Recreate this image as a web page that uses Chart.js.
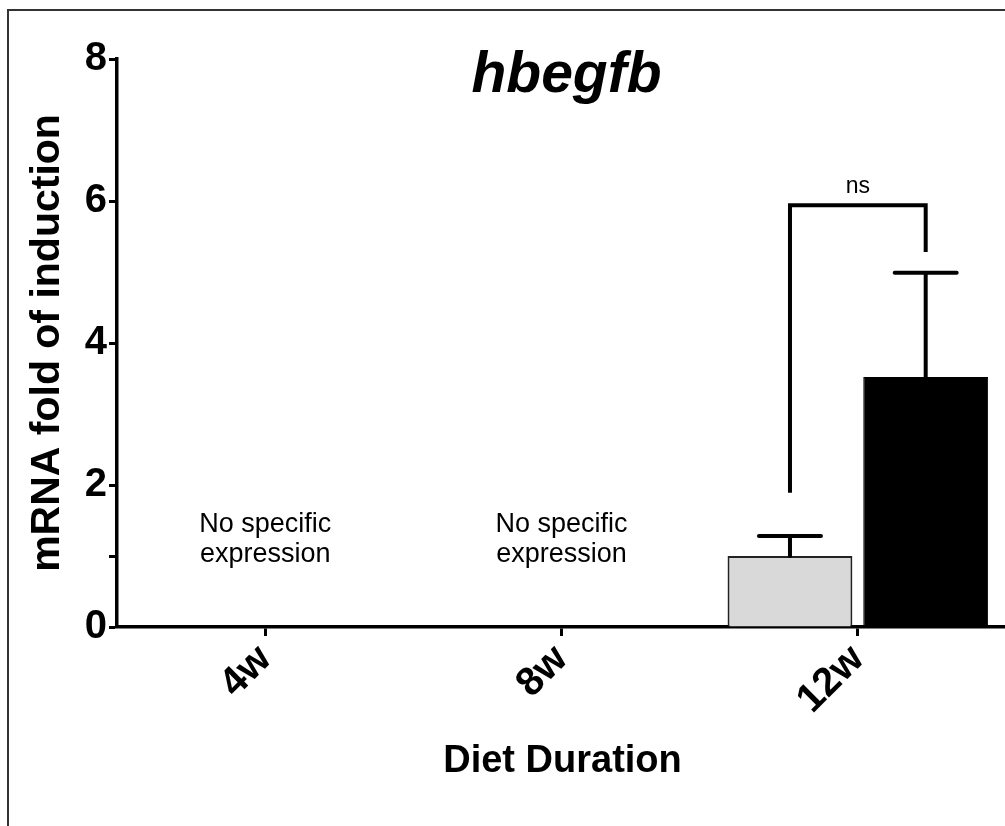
<!DOCTYPE html>
<html>
<head>
<meta charset="utf-8">
<script src="https://cdn.jsdelivr.net/npm/chart.js@4.4.1/dist/chart.umd.min.js"></script>
<style>
  html, body { margin: 0; padding: 0; background: #fff; overflow: hidden; width: 1005px; height: 826px; }
  #wrap { position: absolute; left: 0; top: 0; width: 1012px; height: 826px; }
</style>
</head>
<body>
<div id="wrap"><canvas id="c" width="1012" height="826"></canvas></div>
<script>
// ---- data ----
const categories = ['4w', '8w', '12w'];
const controlMeans = [null, null, 1.0];
const controlUpper = [null, null, 1.28];
const treatedMeans = [null, null, 3.52];
const treatedUpper = [null, null, 4.99];
const yTickValues = [0, 1, 2, 4, 6, 8];
const yTickLabels = ['0', '', '2', '4', '6', '8'];
const noteLines = [['No specific', 'expression'], ['No specific', 'expression'], null];
const bracketLeftEnd = 1.89;
const bracketTop = 5.94;
const bracketRightEnd = 5.28;
const bracketLabel = 'ns';
const chartTitle = 'hbegfb';
const yAxisTitle = 'mRNA fold of induction';
const xAxisTitle = 'Diet Duration';

const FONT = '"Liberation Sans", Arial, Helvetica, sans-serif';

const overlay = {
  id: 'overlay',
  beforeDraw(chart) {
    const ctx = chart.ctx;
    ctx.save();
    ctx.strokeStyle = '#333';
    ctx.lineWidth = 2;
    ctx.beginPath();
    ctx.moveTo(8, 826);
    ctx.lineTo(8, 10);
    ctx.lineTo(1012, 10);
    ctx.stroke();
    ctx.restore();
  },
  afterDatasetsDraw(chart) {
    const ctx = chart.ctx;
    const ys = chart.scales.y;
    const xs = chart.scales.x;
    const area = chart.chartArea;
    ctx.save();
    ctx.strokeStyle = '#000';
    ctx.lineWidth = 4;
    ctx.lineCap = 'round';
    // error bars (upper only)
    [controlUpper, treatedUpper].forEach((upper, di) => {
      const meta = chart.getDatasetMeta(di);
      upper.forEach((u, j) => {
        if (u == null) return;
        const bar = meta.data[j];
        const yT = ys.getPixelForValue(u);
        ctx.beginPath();
        ctx.moveTo(bar.x, bar.y);
        ctx.lineTo(bar.x, yT);
        ctx.moveTo(bar.x - 31, yT);
        ctx.lineTo(bar.x + 31, yT);
        ctx.stroke();
      });
    });
    // significance bracket
    const j = 2;
    const b1 = chart.getDatasetMeta(0).data[j];
    const b2 = chart.getDatasetMeta(1).data[j];
    const yTop = ys.getPixelForValue(bracketTop);
    ctx.lineWidth = 4;
    ctx.lineJoin = 'miter';
    ctx.lineCap = 'butt';
    ctx.beginPath();
    ctx.moveTo(b1.x, ys.getPixelForValue(bracketLeftEnd));
    ctx.lineTo(b1.x, yTop);
    ctx.lineTo(b2.x, yTop);
    ctx.lineTo(b2.x, ys.getPixelForValue(bracketRightEnd));
    ctx.stroke();
    ctx.fillStyle = '#000';
    ctx.font = '23px ' + FONT;
    ctx.textAlign = 'center';
    ctx.textBaseline = 'alphabetic';
    ctx.fillText(bracketLabel, (b1.x + b2.x) / 2, yTop - 12);
    // notes
    ctx.font = '27px ' + FONT;
    noteLines.forEach((lines, k) => {
      if (!lines) return;
      const cx = xs.getPixelForValue(k);
      const y0 = ys.getPixelForValue(1.34);
      lines.forEach((t, li) => ctx.fillText(t, cx, y0 + li * 30));
    });
    // title
    ctx.font = 'italic bold 57px ' + FONT;
    ctx.fillText(chartTitle, (area.left + area.right) / 2 + 5, 92);
    // x axis title
    ctx.font = 'bold 38px ' + FONT;
    ctx.fillText(xAxisTitle, (area.left + area.right) / 2 + 1, 772);
    // y axis title
    ctx.font = 'bold 41px ' + FONT;
    ctx.translate(59, (area.top + area.bottom) / 2);
    ctx.rotate(-Math.PI / 2);
    ctx.fillText(yAxisTitle, 0, 0);
    ctx.restore();
  }
};

new Chart(document.getElementById('c'), {
  type: 'bar',
  data: {
    labels: categories,
    datasets: [
      {
        label: 'Control',
        data: controlMeans,
        backgroundColor: '#d9d9d9',
        borderColor: '#222',
        borderWidth: 2,
        categoryPercentage: 0.916,
        barPercentage: 0.92
      },
      {
        label: 'Diet',
        data: treatedMeans,
        backgroundColor: '#000',
        borderColor: '#000',
        borderWidth: 1,
        categoryPercentage: 0.916,
        barPercentage: 0.92
      }
    ]
  },
  options: {
    responsive: false,
    animation: false,
    events: [],
    layout: { padding: { top: 59, right: 6, left: 0, bottom: 0 } },
    plugins: { legend: { display: false }, tooltip: { enabled: false }, title: { display: false } },
    scales: {
      x: {
        type: 'category',
        offset: true,
        grid: { display: true, drawOnChartArea: false, drawTicks: true, tickLength: 9, tickWidth: 3, tickColor: '#000', offset: false },
        border: { display: true, color: '#000', width: 3.5 },
        ticks: {
          color: '#000',
          font: { family: FONT, size: 40, weight: 'bold' },
          minRotation: 45, maxRotation: 45, autoSkip: false, padding: 0
        },
        afterFit(scale) { scale.height = 826 - 627; }
      },
      y: {
        min: 0, max: 8,
        afterBuildTicks(scale) { scale.ticks = yTickValues.map(v => ({ value: v })); },
        grid: { display: true, drawOnChartArea: false, drawTicks: true, tickLength: 8, tickWidth: 3, tickColor: '#000' },
        border: { display: true, color: '#000', width: 3.5 },
        ticks: {
          color: '#000',
          font: { family: FONT, size: 40, weight: 'bold' },
          padding: 2,
          callback(value) { const i = yTickValues.indexOf(value); return i >= 0 ? yTickLabels[i] : ''; }
        },
        afterFit(scale) { scale.width = 117; }
      }
    }
  },
  plugins: [overlay]
});
</script>
</body>
</html>
